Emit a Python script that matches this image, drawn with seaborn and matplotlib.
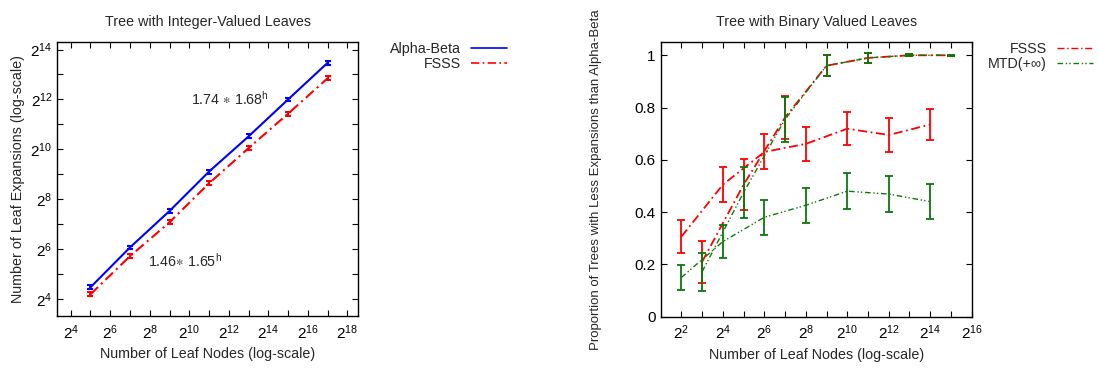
import numpy as np
import pandas as pd
import matplotlib
matplotlib.use('Agg')
import matplotlib.pyplot as plt
import seaborn as sns
from matplotlib.ticker import FixedLocator, FuncFormatter, NullFormatter
from matplotlib.lines import Line2D

# ---------------- data (left panel) ----------------
leaf_nodes_left = [32, 128, 512, 2048, 8192, 32768, 131072]
ab_expansions = [22.2, 67.2, 184.8, 552.6, 1468, 4096, 11340]
ab_err = [1.2, 3.5, 10, 30, 80, 220, 600]
fsss_expansions = [18.3, 52.7, 135.3, 399, 1060, 2760, 7380]
fsss_err = [1.0, 2.8, 7.5, 22, 58, 150, 400]

# ---------------- data (right panel) ----------------
leaf_even = [4, 16, 64, 256, 1024, 4096, 16384]
leaf_odd = [8, 32, 128, 512, 2048, 8192, 32768]
fsss_even = [0.306, 0.505, 0.630, 0.661, 0.719, 0.695, 0.735]
fsss_even_err = [0.063, 0.068, 0.067, 0.066, 0.063, 0.064, 0.061]
fsss_odd = [0.21, 0.505, 0.762, 0.96, 0.99, 1.0, 1.0]
fsss_odd_err = [0.08, 0.098, 0.083, 0.04, 0.02, 0.003, 0.002]
mtd_even = [0.150, 0.287, 0.380, 0.426, 0.480, 0.469, 0.440]
mtd_even_err = [0.049, 0.063, 0.068, 0.068, 0.069, 0.069, 0.068]
mtd_odd = [0.172, 0.475, 0.755, 0.96, 0.99, 1.0, 1.0]
mtd_odd_err = [0.073, 0.099, 0.085, 0.04, 0.02, 0.003, 0.002]

sns.set_style('ticks')
plt.rcParams['font.family'] = ['Liberation Sans', 'DejaVu Sans']
plt.rcParams['mathtext.fontset'] = 'custom'
plt.rcParams['mathtext.rm'] = 'Liberation Sans'
plt.rcParams['mathtext.it'] = 'Liberation Sans:italic'
plt.rcParams['mathtext.bf'] = 'Liberation Sans:bold'
plt.rcParams['mathtext.fallback'] = 'stixsans'

BLUE = '#0000ff'
RED = '#ff0000'
GREEN = '#0a7a0a'
RED_LS = (0, (5, 2, 1, 2))
GREEN_LS = (0, (4, 2, 1, 1.5, 1, 2))

fig = plt.figure(figsize=(10.98, 3.69), dpi=100)
axL = fig.add_axes([0.0522, 0.1436, 0.2741, 0.7417])
axR = fig.add_axes([0.6017, 0.142, 0.2832, 0.7436])

pow2 = FuncFormatter(lambda v, p: r'$2^{%d}$' % round(np.log2(v)))

def style_axes(ax):
    for s in ax.spines.values():
        s.set_linewidth(1.0)
        s.set_color('black')
    ax.tick_params(which='both', direction='in', top=True, right=True,
                   length=4.5, width=0.8, labelsize=11, colors='black')
    ax.tick_params(axis='x', pad=5)

# ---------------- left panel ----------------
dfL = pd.DataFrame({'x': leaf_nodes_left, 'ab': ab_expansions, 'fsss': fsss_expansions})
sns.lineplot(data=dfL, x='x', y='ab', ax=axL, color=BLUE, linewidth=1.5,
             estimator=None, sort=False)
sns.lineplot(data=dfL, x='x', y='fsss', ax=axL, color=RED, linewidth=1.5,
             estimator=None, sort=False, linestyle=RED_LS)
axL.errorbar(leaf_nodes_left, ab_expansions, yerr=ab_err, fmt='none',
             ecolor=BLUE, elinewidth=1.5, capsize=2.5, capthick=1.5)
axL.errorbar(leaf_nodes_left, fsss_expansions, yerr=fsss_err, fmt='none',
             ecolor=RED, elinewidth=1.5, capsize=2.5, capthick=1.5)
axL.set_xscale('log', base=2)
axL.set_yscale('log', base=2)
axL.set_xlim(10, 2 ** 18.55)
axL.set_ylim(10, 20000)
axL.xaxis.set_major_locator(FixedLocator([2.0 ** k for k in range(4, 19, 2)]))
axL.xaxis.set_minor_locator(FixedLocator([2.0 ** k for k in range(5, 18, 2)]))
axL.yaxis.set_major_locator(FixedLocator([2.0 ** k for k in range(4, 15, 2)]))
axL.yaxis.set_minor_locator(FixedLocator([2.0 ** k for k in range(3, 15, 2)]))
axL.xaxis.set_major_formatter(pow2)
axL.yaxis.set_major_formatter(pow2)
axL.xaxis.set_minor_formatter(NullFormatter())
axL.yaxis.set_minor_formatter(NullFormatter())
style_axes(axL)
axL.set_title('Tree with Integer-Valued Leaves', fontsize=10.3, pad=12)
axL.set_xlabel('Number of Leaf Nodes (log-scale)', fontsize=10.3)
axL.set_ylabel('Number of Leaf Expansions (log-scale)', fontsize=10.3)
axL.text(2 ** 12.06, 2 ** 12.04, r'1.74 $\ast$ 1.68$^{\mathrm{h}}$', fontsize=10.3,
         ha='center', va='center')
axL.text(2 ** 9.76, 2 ** 5.52, r'1.46$\ast$ 1.65$^{\mathrm{h}}$', fontsize=10.3,
         ha='center', va='center')
hL = [Line2D([], [], color=BLUE, lw=1.2), Line2D([], [], color=RED, lw=1.2, ls=RED_LS)]
axL.legend(hL, ['Alpha-Beta', 'FSSS'], loc='upper right', markerfirst=False,
           bbox_to_anchor=(507 / 1098, 1 - 42 / 369), bbox_transform=fig.transFigure,
           frameon=False, borderaxespad=0, borderpad=0, fontsize=10.3,
           handlelength=2.5, handletextpad=0.7, labelspacing=0.1)

# ---------------- right panel ----------------
series = [
    (leaf_even, fsss_even, fsss_even_err, RED, RED_LS, 1.3),
    (leaf_odd, fsss_odd, fsss_odd_err, RED, RED_LS, 1.3),
    (leaf_even, mtd_even, mtd_even_err, GREEN, GREEN_LS, 1.0),
    (leaf_odd, mtd_odd, mtd_odd_err, GREEN, GREEN_LS, 1.0),
]
for xs, ys, es, c, ls, lw in series:
    d = pd.DataFrame({'x': xs, 'y': ys})
    sns.lineplot(data=d, x='x', y='y', ax=axR, color=c, linewidth=lw,
                 estimator=None, sort=False, linestyle=ls)
    axR.errorbar(xs, ys, yerr=es, fmt='none', ecolor=c, elinewidth=1.3,
                 capsize=3, capthick=1.3)
axR.set_xscale('log', base=2)
axR.set_xlim(2, 2 ** 16)
axR.set_ylim(0, 1.05)
axR.xaxis.set_major_locator(FixedLocator([2.0 ** k for k in range(2, 17, 2)]))
axR.xaxis.set_minor_locator(FixedLocator([2.0 ** k for k in range(3, 16, 2)]))
axR.xaxis.set_major_formatter(pow2)
axR.xaxis.set_minor_formatter(NullFormatter())
axR.yaxis.set_major_locator(FixedLocator([0, 0.2, 0.4, 0.6, 0.8, 1.0]))
axR.yaxis.set_major_formatter(FuncFormatter(lambda v, p: '%g' % v))
style_axes(axR)
axR.set_title('Tree with Binary Valued Leaves', fontsize=10.3, pad=12)
axR.set_xlabel('Number of Leaf Nodes (log-scale)', fontsize=10.3)
axR.set_ylabel('Proportion of Trees with Less Expansions than Alpha-Beta', fontsize=9.5)
axR.yaxis.set_label_coords(-0.189, 0.5)
hR = [Line2D([], [], color=RED, lw=1.0, ls=RED_LS), Line2D([], [], color=GREEN, lw=1.0, ls=GREEN_LS)]
axR.legend(hR, ['FSSS', 'MTD(+\u221e)'], loc='upper right', markerfirst=False,
           bbox_to_anchor=(1093 / 1098, 1 - 42 / 369), bbox_transform=fig.transFigure,
           frameon=False, borderaxespad=0, borderpad=0, fontsize=10.3,
           handlelength=2.5, handletextpad=0.7, labelspacing=0.1)

fig.savefig('out.png', dpi=100)
